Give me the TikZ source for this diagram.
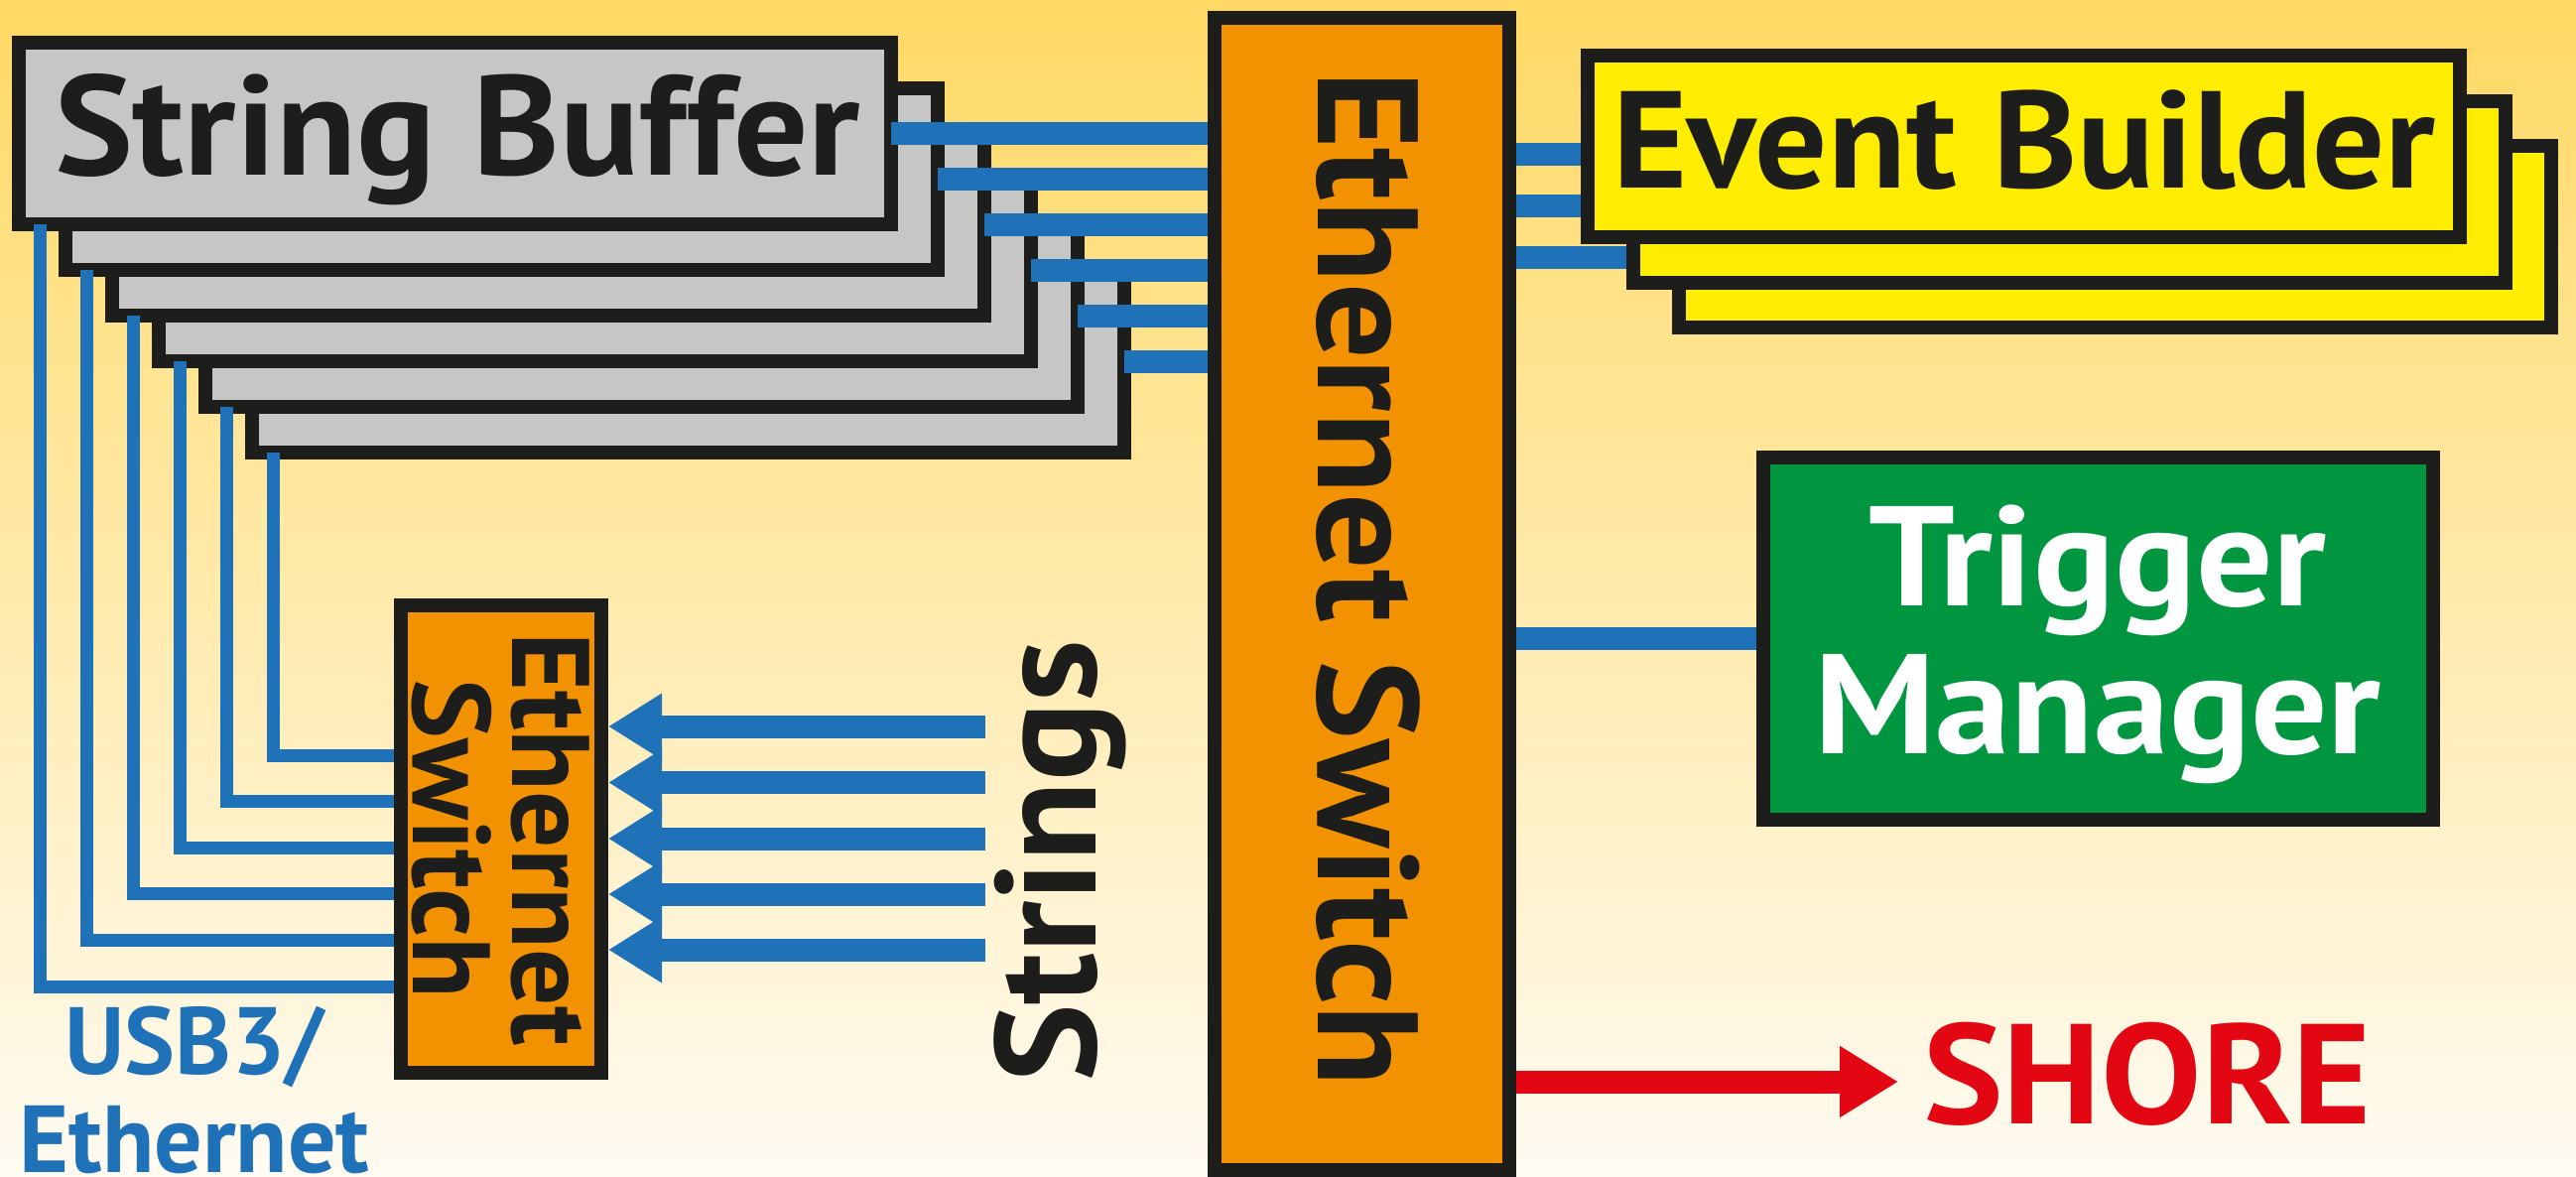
\documentclass[tikz,border=0pt]{standalone}
\usepackage{fontspec}
\setmainfont{PT Sans}
\usetikzlibrary{arrows.meta}
\definecolor{ink}{HTML}{1D1D1B}
\definecolor{sbgray}{HTML}{C6C6C6}
\definecolor{lblue}{HTML}{1F71B8}
\definecolor{sworange}{HTML}{F39200}
\definecolor{ebyellow}{HTML}{FFED00}
\definecolor{tmgreen}{HTML}{009640}
\definecolor{shorered}{HTML}{E30613}
\definecolor{bgtop}{HTML}{FFD964}
\definecolor{bgbot}{HTML}{FFFBF2}
\pgfdeclarelayer{bg}
\pgfdeclarelayer{sblayer}
\pgfdeclarelayer{lines}
\pgfsetlayers{bg,sblayer,lines,main}
\begin{document}
\begin{tikzpicture}[x=0.3pt,y=-0.3pt,
  box/.style={draw=ink, line width=4.2pt, inner sep=0pt, outer sep=0pt},
  sbbox/.style={box, fill=sbgray, minimum width=263.7pt, minimum height=54.9pt},
  ebbox/.style={box, fill=ebyellow, minimum width=263.7pt, minimum height=54.9pt},
  swbox/.style={box, fill=sworange, outer sep=2.1pt},
  link/.style={draw=lblue, line width=6.9pt},
  usb/.style={draw=lblue, line width=3.9pt},
  strarrow/.style={draw=lblue, line width=6.9pt, -{Triangle[length=16.2pt,width=18.9pt]}},
  redarrow/.style={draw=shorered, line width=6.9pt, -{Triangle[length=17.7pt,width=20.4pt]}},
  lbl/.style={inner sep=0pt, text=ink},
]
\useasboundingbox (0,0) rectangle (2596,1185);
\begin{pgfonlayer}{bg}
  \shade[top color=bgtop, bottom color=bgbot] (0,0) rectangle (2596,1185);
\end{pgfonlayer}

% String buffers
\begin{pgfonlayer}{sblayer}
  \foreach \k in {5,4,...,0}
    \node[sbbox] (sb\k) at ({458.5+47*\k},{134.5+46*\k}) {};
  \node[lbl, anchor=base, xscale=1.04, font=\fontsize{42.9}{42.9}\selectfont\bfseries] (sbtext) at (461,176) {String Buffer};
\end{pgfonlayer}

% main ethernet switch
\node[swbox, minimum width=89.1pt, minimum height=348.3pt] (sw) at (1372.5,598.5) {};
\node[lbl, rotate=-90, xscale=1.05, anchor=base, font=\fontsize{43.2}{43.2}\selectfont\bfseries] (swtext) at (1328,583) {Ethernet Switch};

% small ethernet switch
\node[swbox, minimum width=60.6pt, minimum height=141.3pt] (ssw) at (505,845.5) {};
\node[lbl, rotate=-90, xscale=1.02, align=center, font=\fontsize{33.3}{30}\selectfont\bfseries] (sswtext) at (ssw.center) {Ethernet\\Switch};

% event builders
\foreach \k in {2,1,0}
  \node[ebbox] (eb\k) at ({2039+46*\k},{147.5+45.7*\k}) {};
\node[lbl, anchor=base, xscale=1.04, font=\fontsize{41.7}{41.7}\selectfont\bfseries] (ebtext) at (2040,189) {Event Builder};

% trigger manager
\node[box, fill=tmgreen, minimum width=202.5pt, minimum height=109.5pt] (tm) at (2114.5,643.5) {};
\node[inner sep=0pt, text=white, align=center, xscale=1.07, font=\fontsize{42.9}{44.7}\selectfont\bfseries] (tmtext) at (2114,649) {Trigger\\Manager};

% labels
\node[inner sep=0pt, text=shorered, anchor=base, xscale=1.06, font=\fontsize{43}{43}\selectfont\bfseries] (shore) at (2164,1132) {SHORE};
\node[lbl, rotate=90, xscale=1.03, anchor=base, font=\fontsize{43.2}{43.2}\selectfont\bfseries] (strings) at (1104,868) {Strings};
\node[inner sep=0pt, text=lblue, align=center, font=\fontsize{28.8}{29.7}\selectfont\bfseries] (usbtext) at (196,1098) {USB3/\\Ethernet};

% coordinates
\foreach \k in {0,...,5}
  \coordinate (u\k) at (300,{994-46.6*\k});
\coordinate (e0) at (1560,155.5);
\coordinate (e1) at (1560,207.5);
\coordinate (e2) at (1560,259);
\foreach \y [count=\i from 0] in {732,788.5,845,901,957}
  \coordinate (s\i) at (993,\y);
\coordinate (shoretip) at (1913,1090);

% connectors
\begin{pgfonlayer}{lines}
  \foreach \k in {0,...,5} {
    \draw[link] (sb\k.east) -- (sw.west |- sb\k.east);
    \draw[usb] ([xshift=6.45pt]sb\k.south west) |- (ssw.west |- u\k);
  }
  \draw[link] (sw.east |- e0) -- (eb0.west |- e0);
  \draw[link] (sw.east |- e1) -- (eb0.west |- e1);
  \draw[link] (sw.east |- e2) -- (eb1.west |- e2);
  \draw[link] (sw.east |- tm.west) -- (tm.west);
\end{pgfonlayer}
\foreach \i in {0,...,4}
  \draw[strarrow] (s\i) -- (ssw.east |- s\i);
\draw[redarrow] (sw.east |- shoretip) -- (shoretip);
\end{tikzpicture}
\end{document}
